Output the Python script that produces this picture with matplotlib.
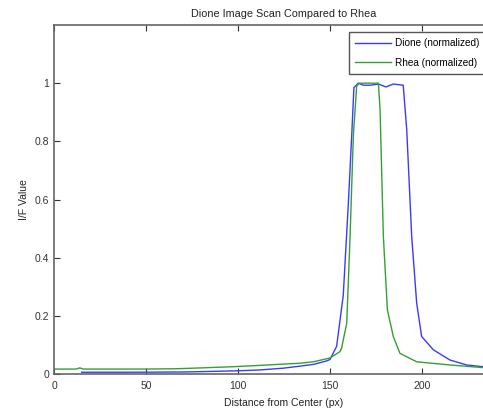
import matplotlib
matplotlib.use("Agg")
import matplotlib.pyplot as plt

# Dione scan (normalized)
dione_x = [15, 40, 72, 100, 112, 124.6, 133.7, 141, 148.2, 150, 153.6, 157.2, 160, 161.8, 163,
           165.4, 168.1, 172, 176.3, 180.4, 184.4, 189.8, 191.7, 194.4, 197.1, 199.8, 206.2,
           215.2, 224.3, 233.2, 240, 250]
dione_y = [0.006, 0.006, 0.007, 0.011, 0.014, 0.02, 0.027, 0.033, 0.045, 0.05, 0.095, 0.27, 0.59,
           0.82, 0.985, 1.0, 0.993, 0.993, 0.997, 0.987, 0.997, 0.993, 0.84, 0.473, 0.244, 0.129,
           0.083, 0.048, 0.031, 0.025, 0.022, 0.02]

# Rhea scan (normalized)
rhea_x = [0, 12, 14, 16, 30, 50, 66, 80, 97, 110, 124.6, 133.7, 141, 150, 155.4, 156.3, 159.1,
          160.9, 162.7, 164.5, 165.9, 170, 176.3, 177.2, 179, 181.2, 184.4, 188, 197.1, 215.2,
          233.2, 240, 250]
rhea_y = [0.017, 0.017, 0.021, 0.017, 0.017, 0.017, 0.018, 0.021, 0.025, 0.029, 0.034, 0.037,
          0.042, 0.055, 0.077, 0.089, 0.175, 0.473, 0.82, 0.99, 1.0, 1.0, 1.0, 0.91, 0.473, 0.22,
          0.129, 0.071, 0.042, 0.031, 0.022, 0.02, 0.019]

plt.rcParams["font.family"] = ["Liberation Sans", "DejaVu Sans"]
fig = plt.figure(figsize=(4.83, 4.12), dpi=100)
ax = fig.add_axes([54 / 483, 38 / 412, 460 / 483, 349 / 412])

ax.plot(dione_x, dione_y, color="#3a3aff", lw=1.0, label="Dione (normalized)")
ax.plot(rhea_x, rhea_y, color="#33a033", lw=1.0, label="Rhea (normalized)")

ax.set_xlim(0, 250)
ax.set_ylim(0, 1.2)
ax.set_xticks([0, 50, 100, 150, 200])
ax.set_yticks([0, 0.2, 0.4, 0.6, 0.8, 1])
ax.set_yticklabels(["0", "0.2", "0.4", "0.6", "0.8", "1"])
ax.tick_params(direction="in", top=True, right=True, labelsize=7.5, colors="#333333",
               length=4, width=0.8)
ax.tick_params(axis="x", pad=5)
for s in ax.spines.values():
    s.set_color("#666666")
    s.set_linewidth(1.2)

ax.set_title("Dione Image Scan Compared to Rhea", fontsize=7.8, color="#222222", pad=6)
ax.set_xlabel("Distance from Center (px)", fontsize=7.5, color="#222222", labelpad=5)
ax.set_ylabel("I/F Value", fontsize=7.5, color="#222222", labelpad=4)

leg = ax.legend(loc="upper left", bbox_to_anchor=(349 / 483, 1 - 32 / 412),
                bbox_transform=fig.transFigure, fontsize=7.2, fancybox=False,
                framealpha=1, handlelength=3.6, borderpad=0.6, labelspacing=0.95,
                handletextpad=0.4, borderaxespad=0)
leg.get_frame().set_edgecolor("#555555")
leg.get_frame().set_linewidth(1.0)

fig.savefig("out.png", dpi=100)
